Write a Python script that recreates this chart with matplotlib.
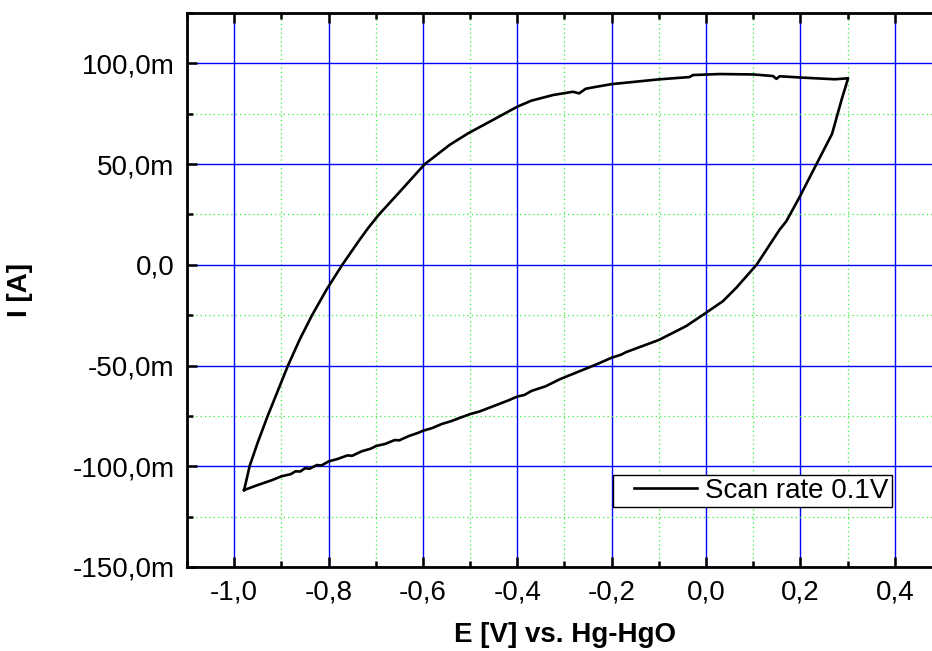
import matplotlib
matplotlib.use("Agg")
import matplotlib.pyplot as plt
from matplotlib.ticker import MultipleLocator, FuncFormatter
from matplotlib.legend_handler import HandlerLine2D

plt.rcParams["font.family"] = ["Liberation Sans", "DejaVu Sans"]

# ---------------- data (E in V, I in mA) ----------------
# anodic sweep, -0.98 V -> 0.30 V
E_up = [-0.979, -0.967, -0.950, -0.929, -0.886, -0.861, -0.835, -0.804, -0.771,
        -0.734, -0.716, -0.693, -0.649, -0.610, -0.596, -0.543, -0.504, -0.451,
        -0.400, -0.370, -0.324, -0.282, -0.269, -0.255, -0.232, -0.200, -0.098,
        -0.035, -0.028, 0.029, 0.100, 0.142, 0.149, 0.156, 0.206, 0.273, 0.301]
I_up = [-111.8, -99.7, -88.1, -75.0, -50.0, -37.0, -25.0, -12.2, 0.0,
        12.5, 18.3, 25.0, 36.3, 46.4, 50.0, 59.6, 65.3, 72.0,
        78.5, 81.5, 84.3, 85.9, 85.1, 87.4, 88.4, 89.7, 92.1,
        93.2, 94.2, 94.7, 94.5, 93.7, 92.3, 93.6, 92.9, 92.1, 92.6]

# cathodic sweep, 0.30 V -> -0.98 V
E_dn = [0.301, 0.287, 0.267, 0.234, 0.199, 0.170, 0.156, 0.107, 0.064, 0.036,
        0.000, -0.042, -0.100, -0.169, -0.180, -0.200, -0.232, -0.310, -0.340,
        -0.370, -0.385, -0.400, -0.420, -0.440, -0.460, -0.480, -0.500, -0.520,
        -0.540, -0.560, -0.580, -0.600, -0.610, -0.630, -0.650, -0.660, -0.680,
        -0.700, -0.710, -0.730, -0.750, -0.760, -0.780, -0.800, -0.815, -0.825,
        -0.840, -0.850, -0.860, -0.870, -0.880, -0.900, -0.920, -0.950, -0.979]
I_dn = [92.6, 81.8, 65.0, 50.0, 34.0, 21.6, 17.5, 0.0, -11.4, -18.0,
        -23.8, -30.4, -37.3, -43.3, -44.6, -46.1, -49.4, -56.8, -60.3,
        -62.6, -64.6, -65.4, -67.4, -69.2, -71.0, -72.8, -74.1, -75.8,
        -77.6, -79.0, -81.0, -82.4, -83.4, -85.0, -87.1, -87.0, -88.9,
        -90.0, -91.2, -92.6, -94.8, -94.6, -96.3, -97.6, -99.6, -99.4,
        -101.2, -101.0, -102.6, -102.5, -103.9, -105.0, -106.9, -109.3, -111.8]

E = E_up + E_dn
I = I_up + I_dn

# ---------------- figure ----------------
fig = plt.figure(figsize=(9.32, 6.51), dpi=100)
ax = fig.add_axes([187 / 932, 84 / 651, 755 / 932, 554 / 651])

ax.plot(E, I, color="black", lw=1.9, label="Scan rate 0.1V", zorder=3)

ax.set_xlim(-1.1, 0.5)
ax.set_ylim(-150, 125)

ax.xaxis.set_major_locator(MultipleLocator(0.2))
ax.xaxis.set_minor_locator(MultipleLocator(0.1))
ax.yaxis.set_major_locator(MultipleLocator(50))
ax.yaxis.set_minor_locator(MultipleLocator(25))


def fmt_x(v, pos):
    s = f"{v:.1f}".replace(".", ",")
    return "0,0" if s in ("-0,0", "0,0") else s


def fmt_y(v, pos):
    if abs(v) < 1e-9:
        return "0,0"
    return f"{v:.1f}".replace(".", ",") + "m"


ax.xaxis.set_major_formatter(FuncFormatter(fmt_x))
ax.yaxis.set_major_formatter(FuncFormatter(fmt_y))

ax.grid(which="major", color="#0000ff", lw=1.0, ls="-", zorder=1)
ax.grid(which="minor", color="#33ee33", lw=0.9, ls=(0, (1, 2.5)), zorder=1)

ax.tick_params(which="both", direction="in", top=True, right=True,
               width=1.8, labelsize=20, pad=9)
ax.tick_params(which="major", length=7)
ax.tick_params(which="minor", length=4)
for sp in ax.spines.values():
    sp.set_linewidth(2.0)

ax.set_xlabel("E [V] vs. Hg-HgO", fontsize=20, fontweight="bold", labelpad=12)
ax.set_ylabel("I [A]", fontsize=20, fontweight="bold", labelpad=28)

line = ax.get_lines()[0]
leg = ax.legend(loc="lower left", bbox_to_anchor=((612.7 - 187) / 755, (567 - 507.3) / 554),
                fontsize=20, frameon=True, fancybox=False, framealpha=1,
                edgecolor="black", borderpad=0.12, handlelength=2.9,
                handletextpad=0.3, borderaxespad=0,
                handler_map={line: HandlerLine2D(xpad=0.65)})
leg.get_frame().set_linewidth(1.0)

fig.savefig("out.png", dpi=100)
